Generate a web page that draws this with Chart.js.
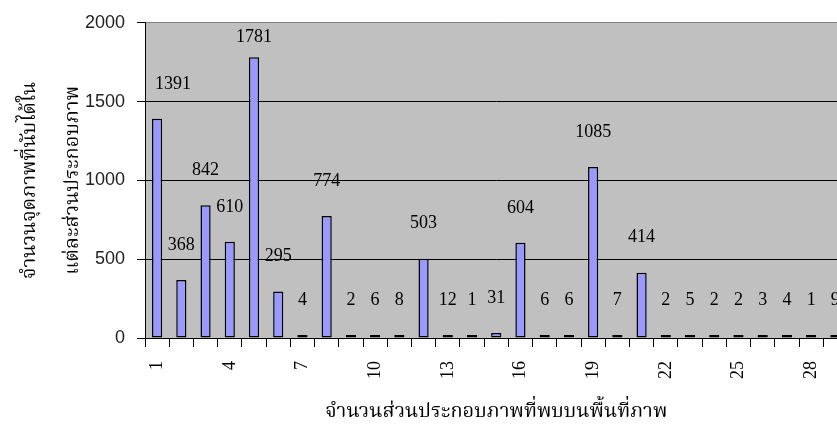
<!DOCTYPE html>
<html>
<head>
<meta charset="utf-8">
<script src="https://cdn.jsdelivr.net/npm/chart.js@4.4.1/dist/chart.umd.min.js"></script>
<style>
  html,body{margin:0;padding:0;background:#fff;overflow:hidden;}
  #wrap{width:871px;height:426px;}
</style>
</head>
<body>
<div id="wrap"><canvas id="myChart" width="871" height="426"></canvas></div>
<script>
// categories = number of image parts, values = pixel counts
const categories=['1','2','3','4','5','6','7','8','9','10','11','12','13','14','15','16','17','18','19','20','21','22','23','24','25','26','27','28','29'];
const counts=[1391,368,842,610,1781,295,4,774,2,6,8,503,12,1,31,604,6,6,1085,7,414,2,5,2,2,3,4,1,9];
const shownTicks=['1','4','7','10','13','16','19','22','25','28'];
const yTicks=[0,500,1000,1500,2000];
const yTitle=['จำนวนจุดภาพที่นับได้ใน','แต่ละส่วนประกอบภาพ'];
const xTitle='จำนวนส่วนประกอบภาพที่พบบนพื้นที่ภาพ';

const thaiFont="'Noto Serif Thai','Norasi','Loma','Garuda','Liberation Serif',serif";
const serifFont="'Liberation Serif','Times New Roman',serif";
const sansFont="'Liberation Sans',Arial,sans-serif";

// gray plot background
const plotBg={
  id:'plotBg',
  beforeDraw(chart){
    const {ctx,chartArea:a}=chart;
    ctx.save();
    ctx.fillStyle='#c0c0c0';
    ctx.fillRect(a.left,a.top,a.right-a.left,a.bottom-a.top);
    ctx.restore();
  }
};

// value labels above each bar
const valueLabels={
  id:'valueLabels',
  afterDatasetsDraw(chart){
    const {ctx,chartArea:a}=chart;
    const meta=chart.getDatasetMeta(0);
    ctx.save();
    ctx.font='18px '+serifFont;
    ctx.fillStyle='#000';
    ctx.textAlign='center';
    ctx.textBaseline='middle';
    meta.data.forEach((bar,i)=>{
      const txt=String(counts[i]);
      const w=ctx.measureText(txt).width;
      let x=Math.max(bar.x,a.left+10+w/2);
      let y=Math.max(bar.y-35,a.top+14);
      ctx.fillText(txt,x,y);
    });
    ctx.restore();
  }
};

window.addEventListener('load',()=>{
  const ctx=document.getElementById('myChart');
  new Chart(ctx,{
    type:'bar',
    data:{
      labels:categories,
      datasets:[{
        data:counts,
        backgroundColor:'#9999ff',
        borderColor:'#000',
        borderWidth:1.5,
        borderSkipped:false,
        minBarLength:3,
        barPercentage:0.42,
        categoryPercentage:1
      }]
    },
    options:{
      responsive:false,
      animation:false,
      layout:{padding:{left:0,right:2,top:19,bottom:0}},
      plugins:{legend:{display:false},tooltip:{enabled:false}},
      scales:{
        x:{
          offset:true,
          grid:{offset:true,drawOnChartArea:false,drawTicks:true,tickLength:9,tickColor:'#000',color:'#000'},
          border:{color:'#000',width:1},
          ticks:{
            autoSkip:false,minRotation:90,maxRotation:90,padding:14,
            color:'#000',font:{family:serifFont,size:18},
            callback:function(v){const l=this.getLabelForValue(v);return shownTicks.includes(l)?l:'';}
          },
          title:{display:true,text:xTitle,color:'#000',font:{family:thaiFont,size:20},padding:{top:0,bottom:0}},
          afterFit(scale){scale.height=88;}
        },
        y:{
          min:yTicks[0],max:yTicks[yTicks.length-1],
          afterBuildTicks(scale){scale.ticks=yTicks.map(v=>({value:v}));},
          grid:{
            color:c=>c.tick.value===2000?'#808080':'#000',
            tickColor:'#000',tickLength:8,lineWidth:1
          },
          border:{color:'#000',width:1},
          ticks:{padding:12,color:'#222',font:{family:sansFont,size:18},callback:v=>String(v)},
          title:{display:true,text:yTitle,color:'#000',font:{family:thaiFont,size:20,lineHeight:'43px'},padding:{top:10,bottom:0}},
          afterFit(scale){scale.width=145;}
        }
      }
    },
    plugins:[plotBg,valueLabels]
  });
});
</script>
</body>
</html>
